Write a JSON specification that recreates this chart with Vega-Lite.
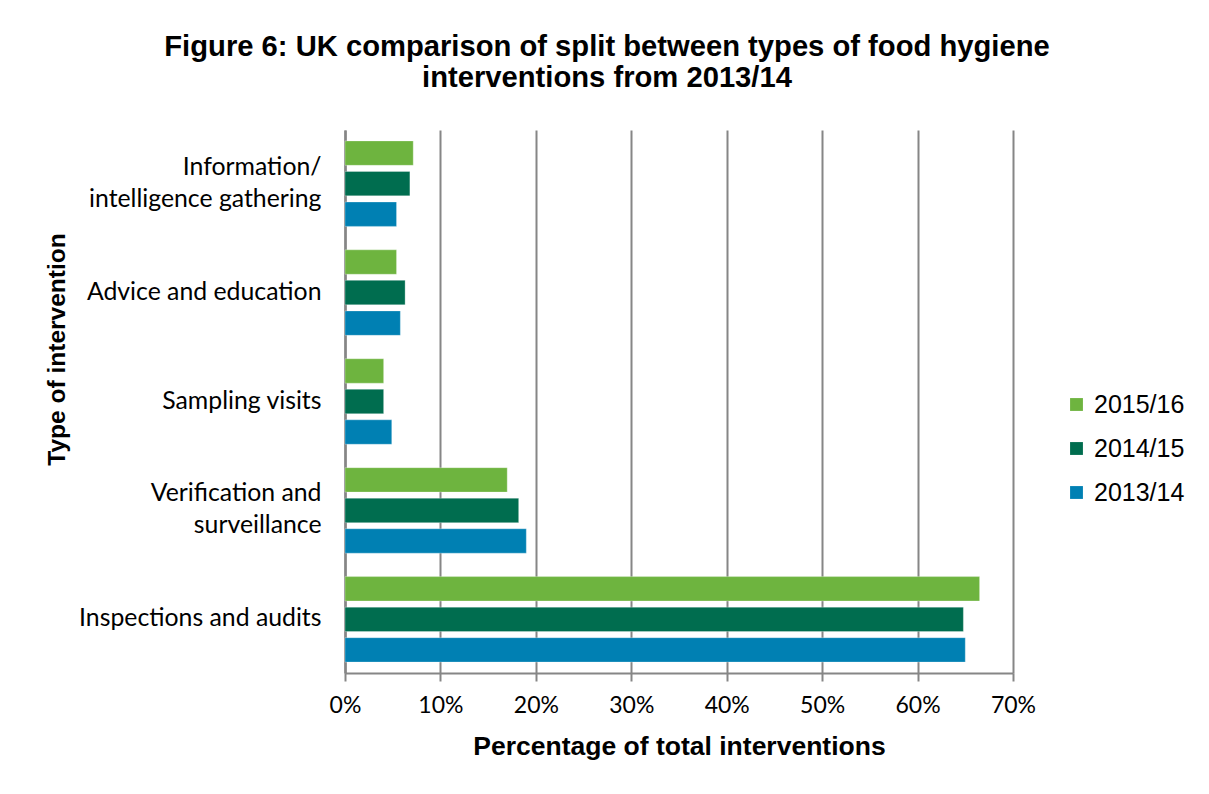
{
  "$schema": "https://vega.github.io/schema/vega-lite/v6.json",
  "autosize": {"type": "none"},
  "width": 668,
  "height": 543,
  "padding": {"left": 345, "top": 130, "right": 196, "bottom": 121},
  "background": "white",
  "title": {
    "text": ["Figure 6: UK comparison of split between types of food hygiene", "interventions from 2013/14"],
    "font": "Liberation Sans",
    "fontSize": 29.2,
    "fontWeight": "bold",
    "color": "#000000",
    "anchor": "middle",
    "frame": "group",
    "dx": -72,
    "offset": 37,
    "lineHeight": 31
  },
  "data": {
    "values": [
      {"type": "Information/|intelligence gathering", "year": "2015/16", "pct": 0.0715},
      {"type": "Information/|intelligence gathering", "year": "2014/15", "pct": 0.068},
      {"type": "Information/|intelligence gathering", "year": "2013/14", "pct": 0.054},
      {"type": "Advice and education", "year": "2015/16", "pct": 0.054},
      {"type": "Advice and education", "year": "2014/15", "pct": 0.063},
      {"type": "Advice and education", "year": "2013/14", "pct": 0.058},
      {"type": "Sampling visits", "year": "2015/16", "pct": 0.0405},
      {"type": "Sampling visits", "year": "2014/15", "pct": 0.0405},
      {"type": "Sampling visits", "year": "2013/14", "pct": 0.049},
      {"type": "Verification and|surveillance", "year": "2015/16", "pct": 0.170},
      {"type": "Verification and|surveillance", "year": "2014/15", "pct": 0.182},
      {"type": "Verification and|surveillance", "year": "2013/14", "pct": 0.190},
      {"type": "Inspections and audits", "year": "2015/16", "pct": 0.665},
      {"type": "Inspections and audits", "year": "2014/15", "pct": 0.648},
      {"type": "Inspections and audits", "year": "2013/14", "pct": 0.650}
    ]
  },
  "mark": {"type": "bar", "stroke": "white", "strokeWidth": 0.5, "strokeOpacity": 0.6},
  "encoding": {
    "y": {
      "field": "type",
      "type": "nominal",
      "sort": ["Information/|intelligence gathering", "Advice and education", "Sampling visits", "Verification and|surveillance", "Inspections and audits"],
      "scale": {"paddingInner": 0.215, "paddingOuter": 0.1},
      "axis": {
        "title": "Type of intervention",
        "titleFont": "Liberation Sans",
        "titleFontSize": 24.5,
        "titleFontWeight": "bold",
        "titleColor": "#000000",
        "titleX": -288,
        "titleY": 219,
        "titleAngle": -90,
        "titleAlign": "center",
        "titleBaseline": "middle",
        "labelExpr": "split(datum.label, '|')",
        "labelFont": "Lato",
        "labelFontSize": 24.8,
        "labelColor": "#000000",
        "labelLineHeight": 32,
        "labelPadding": 24,
        "labelLimit": 400,
        "labelOffset": {"condition": {"test": "indexof(datum.value, '|') >= 0", "value": -16}, "value": 0},
        "ticks": false,
        "domainColor": "#868686",
        "domainWidth": 2.5
      }
    },
    "yOffset": {
      "field": "year",
      "type": "nominal",
      "sort": ["2015/16", "2014/15", "2013/14"],
      "scale": {"paddingInner": 0.2, "paddingOuter": 0}
    },
    "x": {
      "field": "pct",
      "type": "quantitative",
      "scale": {"domain": [0, 0.7], "nice": false},
      "axis": {
        "title": "Percentage of total interventions",
        "titleFont": "Liberation Sans",
        "titleFontSize": 26.5,
        "titleFontWeight": "bold",
        "titleColor": "#000000",
        "titlePadding": 16,
        "format": ".0%",
        "values": [0, 0.1, 0.2, 0.3, 0.4, 0.5, 0.6, 0.7],
        "labelFlush": false,
        "labelFont": "Lato",
        "labelFontSize": 23,
        "labelColor": "#000000",
        "labelPadding": 13,
        "tickSize": 8,
        "tickColor": "#868686",
        "tickWidth": 2,
        "domainColor": "#868686",
        "domainWidth": 2,
        "grid": true,
        "gridColor": "#868686",
        "gridWidth": 2
      }
    },
    "color": {
      "field": "year",
      "type": "nominal",
      "scale": {"domain": ["2015/16", "2014/15", "2013/14"], "range": ["#6EB43F", "#006D4F", "#0080B3"]},
      "legend": {
        "title": null,
        "orient": "none",
        "legendX": 719,
        "legendY": 262,
        "symbolType": "square",
        "symbolSize": 165,
        "symbolStrokeWidth": 0,
        "labelFont": "Liberation Sans",
        "labelFontSize": 25,
        "labelColor": "#000000",
        "labelOffset": 5,
        "rowPadding": 18
      }
    }
  },
  "config": {
    "view": {"stroke": null}
  }
}
